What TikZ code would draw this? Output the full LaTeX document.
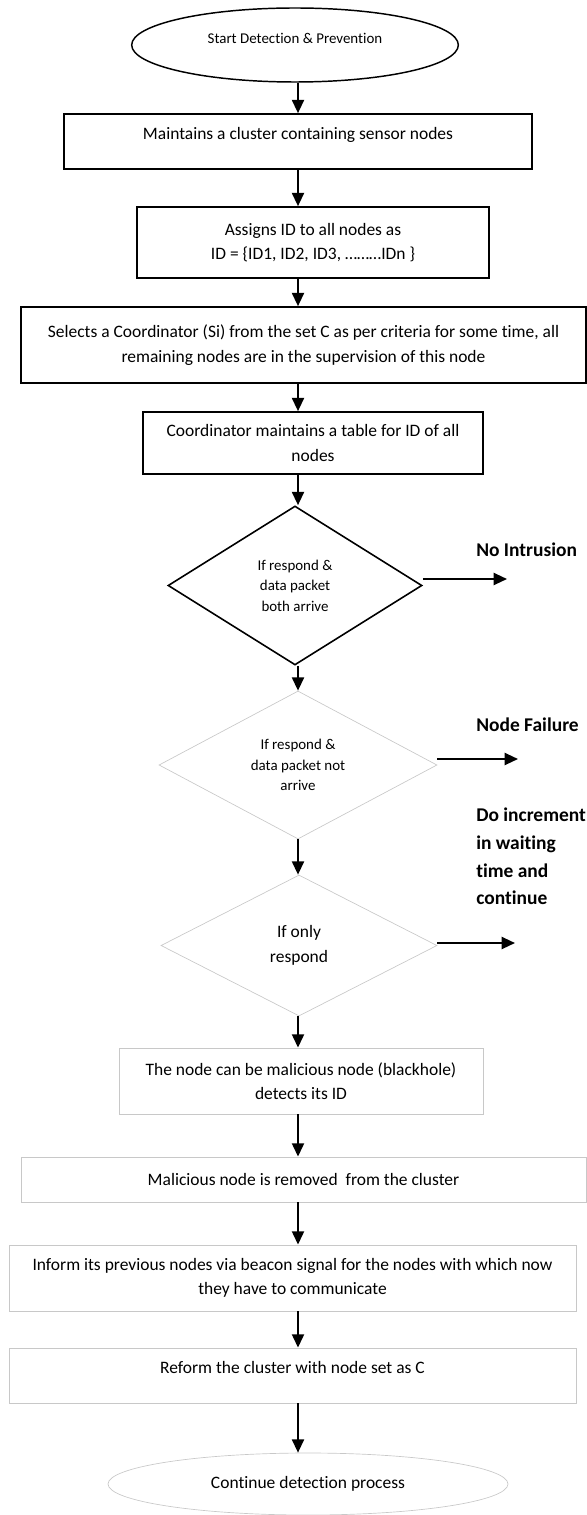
\documentclass[tikz,border=0pt]{standalone}
\usepackage{fontspec}
\setmainfont{Carlito}[Ligatures=NoCommon]
\usetikzlibrary{shapes.geometric,arrows.meta}

\definecolor{softgray}{RGB}{200,200,200}
\newcommand{\stepfont}{\fontsize{13.1pt}{18.4pt}\selectfont}
\newcommand{\testfont}{\fontsize{11.2pt}{15.4pt}\selectfont}
\newcommand{\notefont}{\fontsize{14.6pt}{20.8pt}\selectfont\bfseries}

\begin{document}
\begin{tikzpicture}[x=0.75pt,y=-0.75pt,
  terminal/.style={ellipse, draw, line width=1.1pt, inner sep=0pt, font=\testfont},
  stepbox/.style={rectangle, draw, line width=1.2pt, align=center, inner sep=2pt, font=\stepfont},
  softbox/.style={stepbox, draw=softgray, line width=0.6pt},
  decision/.style={diamond, draw, aspect=1.6, inner sep=0pt, line width=1.2pt, align=center, font=\testfont},
  softdecision/.style={decision, draw=softgray, line width=0.5pt},
  flow/.style={-{Triangle[length=10pt,width=9pt]}, line width=1.6pt},
  remark/.style={anchor=west, align=left, font=\notefont, inner sep=0pt}]

  \useasboundingbox (0,0) rectangle (586,1515);

  % Start of the procedure
  \node[terminal, minimum width=245pt, minimum height=55.5pt, text height=7.5pt, text depth=9pt] (start) at (295,45) {Start Detection \& Prevention};

  % Cluster set-up steps
  \node[stepbox, minimum width=351pt, minimum height=41.25pt, text height=9pt, text depth=12pt] (cluster) at (298,141.5) {Maintains a cluster containing sensor nodes};
  \node[stepbox, minimum width=264pt, minimum height=53.25pt] (assign) at (313,242.5) {Assigns ID to all nodes as\\ID = \{ID1, ID2, ID3, ………IDn \}};
  \node[stepbox, minimum width=423.75pt, minimum height=57pt] (select) at (303.5,345) {Selects a Coordinator (Si) from the set C as per criteria for some time, all\\remaining nodes are in the supervision of this node};
  \node[stepbox, minimum width=255pt, minimum height=46.5pt] (table) at (313,443) {Coordinator maintains a table for ID of all\\nodes};

  % Checks on the replies
  \node[decision, minimum width=190.5pt, minimum height=119.25pt] (both) at (295,585.5) {If respond \&\\data packet\\both arrive};
  \node[softdecision, minimum width=208.5pt, minimum height=111pt] (none) at (298,765) {If respond \&\\data packet not\\arrive};
  \node[softdecision, minimum width=207pt, minimum height=105.75pt, font=\stepfont] (only) at (299,945.5) {If only\\respond};

  % Outcomes on the right
  \node[remark] (nointr) at (476,550) {No Intrusion};
  \node[remark] (fail) at (476,725) {Node Failure};
  \node[remark] (wait) at (476,856.5) {Do increment\\in waiting\\time and\\continue};
  \coordinate (nointr-end) at (507,579);
  \coordinate (fail-end) at (518,759);
  \coordinate (wait-end) at (515,943);

  % Removal of the malicious node
  \node[softbox, minimum width=273pt, minimum height=49.5pt] (malic) at (301,1081) {The node can be malicious node (blackhole)\\detects its ID};
  \node[softbox, minimum width=423.75pt, minimum height=33.75pt] (remove) at (303.5,1179.5) {Malicious node is removed\ \ from the cluster};
  \node[softbox, minimum width=425.25pt, minimum height=49.5pt] (inform) at (292.5,1278) {Inform its previous nodes via beacon signal for the nodes with which now\\they have to communicate};
  \node[softbox, minimum width=425.25pt, minimum height=41.25pt, text height=9pt, text depth=12pt] (reform) at (292.5,1375.5) {Reform the cluster with node set as C};
  \node[terminal, draw=softgray, line width=0.5pt, font=\stepfont, minimum width=300pt, minimum height=46.5pt] (cont) at (308,1484) {Continue detection process};

  % Main flow down the page
  \foreach \a/\b in {start/cluster, cluster/assign, assign/select, select/table, table/both,
                     both/none, none/only, only/malic, malic/remove, remove/inform,
                     inform/reform, reform/cont}
    \draw[flow] (\a.south -| cluster) -- (\b.north -| cluster);

  % Side exits
  \draw[flow] (both.east |- nointr-end) -- (nointr-end);
  \draw[flow] (none.east |- fail-end) -- (fail-end);
  \draw[flow] (only.east |- wait-end) -- (wait-end);
\end{tikzpicture}
\end{document}
